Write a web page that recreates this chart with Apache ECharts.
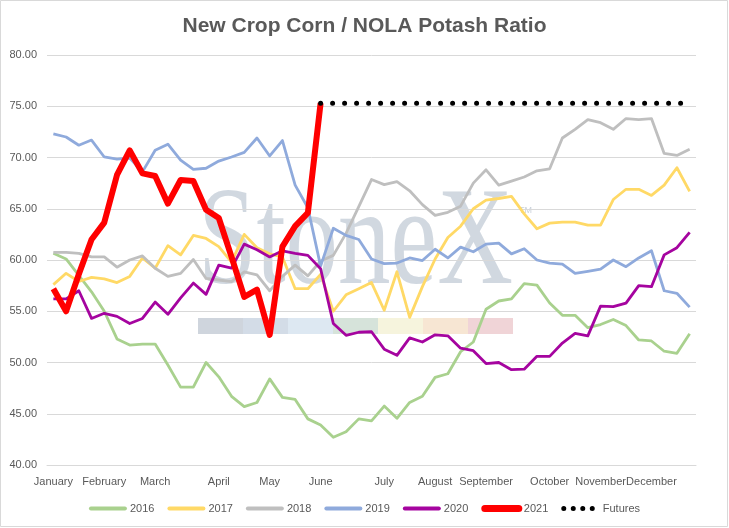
<!DOCTYPE html>
<html>
<head>
<meta charset="utf-8">
<script src="https://cdn.jsdelivr.net/npm/echarts@6/dist/echarts.min.js"></script>
<style>
  html, body { margin: 0; padding: 0; background: #fff; }
  #chart { width: 729px; height: 528px; }
</style>
</head>
<body>
<div id="chart"></div>
<script>
// weekly points, one category per week (51 weeks)
const monthNames = ['January', 'February', 'March', 'April', 'May', 'June', 'July',
  'August', 'September', 'October', 'November', 'December'];
const monthWeek = [0, 4, 8, 13, 17, 21, 26, 30, 34, 39, 43, 47];

const y2016 = [60.65, 60.1, 58.5, 56.9, 55.0, 52.3, 51.7, 51.8, 51.8, 49.75, 47.6, 47.6, 50.0, 48.6, 46.7,
  45.7, 46.1, 48.4, 46.6, 46.4, 44.5, 43.9, 42.7, 43.25, 44.5, 44.3, 45.75, 44.55, 46.1, 46.7, 48.55,
  48.9, 51.05, 52.0, 55.2, 56.0, 56.2, 57.7, 57.55, 55.8, 54.6, 54.6, 53.4, 53.7, 54.2, 53.6, 52.2,
  52.1, 51.1, 50.9, 52.8];
const y2017 = [57.6, 58.7, 57.9, 58.3, 58.15, 57.8, 58.4, 60.2, 59.2, 61.4, 60.5, 62.4, 62.1, 61.3, 59.8,
  62.5, 61.2, 60.6, 60.3, 57.2, 57.2, 58.6, 55.0, 56.6, 57.2, 57.8, 55.1, 58.85, 54.4, 57.4, 60.1,
  62.2, 63.3, 65.0, 65.85, 66.0, 66.2, 64.5, 63.05, 63.6, 63.7, 63.7, 63.4, 63.4, 65.9, 66.9, 66.9,
  66.3, 67.3, 69.0, 66.7];
const y2018 = [60.75, 60.75, 60.65, 60.3, 60.3, 59.3, 60.0, 60.4, 59.2, 58.4, 58.7, 60.05, 58.2, 58.05, 57.9,
  58.85, 58.55, 57.0, 58.4, 59.5, 58.45, 59.9, 60.45, 62.6, 65.2, 67.85, 67.35, 67.65, 66.75, 65.4, 64.35,
  64.65, 65.25, 67.5, 68.8, 67.3, 67.7, 68.1, 68.7, 68.9, 71.9, 72.75, 73.7, 73.4, 72.75, 73.8, 73.7,
  73.8, 70.4, 70.2, 70.8];
const y2019 = [72.3, 72.0, 71.2, 71.7, 70.05, 69.85, 69.95, 68.6, 70.7, 71.3, 69.75, 68.85, 68.95, 69.65, 70.05,
  70.5, 71.9, 70.15, 71.65, 67.3, 65.1, 59.4, 63.1, 62.4, 62.0, 60.1, 59.65, 59.7, 60.2, 59.95, 61.05,
  60.2, 61.25, 60.8, 61.55, 61.65, 60.6, 61.1, 60.0, 59.7, 59.6, 58.7, 58.9, 59.1, 60.0, 59.35, 60.2,
  60.9, 57.0, 56.75, 55.4];
const y2020 = [56.2, 56.2, 57.0, 54.3, 54.8, 54.5, 53.8, 54.3, 55.9, 54.7, 56.3, 57.75, 56.65, 59.5, 59.2,
  61.55, 61.0, 60.3, 60.9, 60.65, 60.45, 59.15, 53.8, 52.65, 52.95, 53.0, 51.3, 50.7, 52.4, 52.0, 52.7,
  52.6, 51.4, 51.15, 49.9, 50.0, 49.3, 49.35, 50.6, 50.6, 51.9, 52.85, 52.6, 55.5, 55.45, 55.8, 57.5,
  57.4, 60.5, 61.2, 62.7];
const y2021 = [57.2, 55.0, 58.6, 62.0, 63.65, 68.3, 70.7, 68.45, 68.2, 65.5, 67.8, 67.7, 64.9, 64.1, 60.3,
  56.4, 57.1, 52.7, 61.3, 63.3, 64.6, 75.3];
const futuresStart = 21;
const futuresValue = 75.3;

const weekCount = y2016.length;
const weekLabels = [];
for (let i = 0; i < weekCount; i++) {
  const k = monthWeek.indexOf(i);
  weekLabels.push(k >= 0 ? monthNames[k] : '');
}
const futures = [];
for (let i = 0; i < weekCount; i++) {
  futures.push(i >= futuresStart ? futuresValue : null);
}

const grey = '#595959';
const font = '"Liberation Sans", Arial, sans-serif';

const lineSeries = (name, data, color, width) => ({
  name: name,
  type: 'line',
  data: data,
  symbol: 'none',
  smooth: false,
  lineStyle: { color: color, width: width, join: 'round' },
  itemStyle: { color: color },
  emphasis: { disabled: true },
  animation: false
});

// watermark strip colours
const stripColors = ['#cfd5dd', '#d3dce7', '#dde8f2', '#d6e3da', '#f6f4dd', '#f7e6d3', '#f0d4d7'];
const watermark = [
  {
    type: 'text', x: 198, y: 246, scaleX: 0.75, z: -1, silent: true,
    style: { text: 'StoneX', font: '140px "Liberation Serif", "DejaVu Serif", serif', fill: '#c9d1db', verticalAlign: 'middle', opacity: 0.85 }
  },
  {
    type: 'text', x: 519, y: 211, z: -1, silent: true,
    style: { text: 'TM', font: '9px ' + font, fill: '#c9d1db', verticalAlign: 'middle' }
  },
  {
    type: 'rect', shape: { x: 0.5, y: 0.5, width: 727, height: 526 }, z: -1, silent: true,
    style: { fill: 'none', stroke: '#d9d9d9', lineWidth: 1 }
  }
];
stripColors.forEach((c, i) => {
  watermark.push({
    type: 'rect', z: -1, silent: true,
    shape: { x: 198 + i * 45, y: 318, width: 45, height: 16 },
    style: { fill: c }
  });
});

const chart = echarts.init(document.getElementById('chart'), null, { renderer: 'canvas' });
chart.setOption({
  animation: false,
  backgroundColor: '#fff',
  title: {
    text: 'New Crop Corn / NOLA Potash Ratio',
    left: 'center',
    top: 11,
    textStyle: { color: grey, fontSize: 21, fontWeight: 'bold', fontFamily: font }
  },
  graphic: watermark,
  grid: { left: 47, right: 33, top: 55, bottom: 63, containLabel: false },
  legend: {
    bottom: 9,
    left: 'center',
    itemWidth: 34,
    itemHeight: 10,
    itemGap: 13,
    itemStyle: { color: 'rgba(0,0,0,0)', borderWidth: 0, opacity: 0 },
    lineStyle: { width: 4, cap: 'round' },
    textStyle: { color: grey, fontSize: 11, fontFamily: font },
    data: ['2016', '2017', '2018', '2019', '2020',
      { name: '2021', lineStyle: { width: 7, cap: 'round' } },
      { name: 'Futures', lineStyle: { type: [0, 9.5], cap: 'round', width: 5 } }]
  },
  xAxis: {
    type: 'category',
    data: weekLabels,
    boundaryGap: true,
    axisLine: { lineStyle: { color: '#d9d9d9' } },
    axisTick: { show: false },
    axisLabel: { interval: 0, color: grey, fontSize: 11, fontFamily: font, margin: 11 },
    splitLine: { show: false }
  },
  yAxis: {
    type: 'value',
    min: 40,
    max: 80,
    interval: 5,
    axisLine: { show: false },
    axisTick: { show: false },
    axisLabel: { color: grey, fontSize: 11, fontFamily: font, margin: 10, formatter: v => v.toFixed(2) },
    splitLine: { lineStyle: { color: '#d9d9d9' } }
  },
  series: [
    lineSeries('2016', y2016, '#a9d18e', 2.8),
    lineSeries('2017', y2017, '#ffd966', 2.8),
    lineSeries('2018', y2018, '#bfbfbf', 2.8),
    lineSeries('2019', y2019, '#8faadc', 2.8),
    lineSeries('2020', y2020, '#a5049f', 2.8),
    lineSeries('2021', y2021, '#ff0000', 6),
    {
      name: 'Futures',
      type: 'line',
      data: futures,
      symbol: 'none',
      lineStyle: { color: '#000', width: 5, type: [0, 12], cap: 'round' },
      itemStyle: { color: '#000' },
      emphasis: { disabled: true },
      animation: false
    }
  ]
});
</script>
</body>
</html>
